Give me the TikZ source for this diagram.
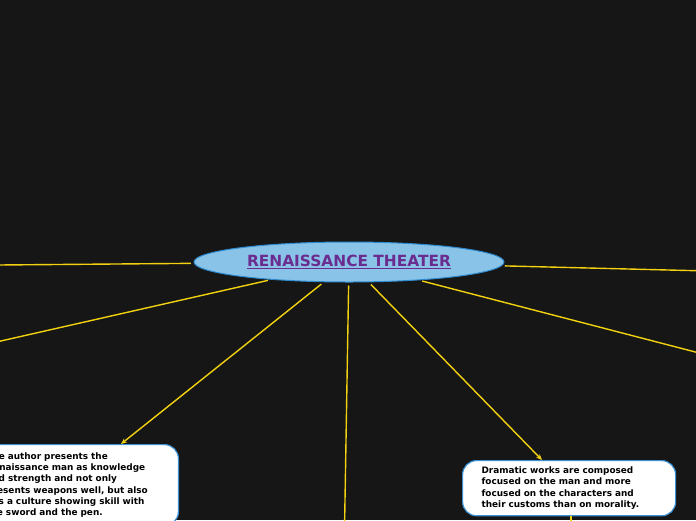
\documentclass[tikz,border=0pt]{standalone}
\usepackage{fontspec}
\setmainfont{DejaVu Sans}
\usetikzlibrary{arrows.meta,shapes.geometric}
\definecolor{bg}{HTML}{161616}
\definecolor{ln}{HTML}{F2D110}
\definecolor{ellfill}{HTML}{8AC3E8}
\definecolor{ellbord}{HTML}{2E8BD0}
\definecolor{titlecol}{HTML}{6A2C8E}
\definecolor{boxbord}{HTML}{3A91D6}
\begin{document}
\begin{tikzpicture}[x=1pt,y=-1pt,
 conn/.style={draw=ln,line width=1.4pt,shorten <=3pt},
 arr/.style={conn,-{Stealth[length=6pt,width=5pt]}},
 topic/.style={rectangle,rounded corners=14pt,draw=boxbord,line width=1.2pt,fill=white,text width=175pt,inner xsep=19pt,inner ysep=6.3pt,align=left,font=\bfseries\fontsize{8.9}{11.3}\selectfont,text=black},
 mainidea/.style={ellipse,draw=ellbord,line width=1pt,fill=ellfill,minimum width=310pt,minimum height=40pt,inner sep=0pt,font=\bfseries\fontsize{15.4}{17}\selectfont,text=titlecol}]
\fill[bg] (0,0) rectangle (696,520);
\useasboundingbox (0,0) rectangle (696,520);
\node[mainidea] (c) at (349,262) {\raisebox{-1pt}{\underline{RENAISSANCE THEATER}}};
\node[topic,anchor=north east,text width=173pt,inner ysep=8pt] (boxL) at (179,444) {The author presents the\\Renaissance man as knowledge\\and strength and not only\\presents weapons well, but also\\has a culture showing skill with\\the sword and the pen.};
\node[topic,anchor=north west] (boxR) at (462,460) {Dramatic works are composed\\focused on the man and more\\focused on the characters and\\their customs than on morality.};
\coordinate (eW) at (-60,265.5);
\coordinate (eWSW) at (-60,354.8);
\coordinate (eS) at (344,560);
\coordinate (eESE) at (760,368.8);
\coordinate (eE) at (760,272.3);
\coordinate (eR) at (571,560);
\draw[conn] (c) -- (eW);
\draw[conn] (c) -- (eWSW);
\draw[conn] (c) -- (eS);
\draw[conn] (c) -- (eESE);
\draw[conn] (c) -- (eE);
\draw[arr] (c) -- ([xshift=-58pt]boxL.north east);
\draw[arr] (c) -- ([xshift=80pt]boxR.north west);
\draw[conn,shorten <=0pt] ([xshift=109pt]boxR.south west) -- (eR);
\end{tikzpicture}
\end{document}
